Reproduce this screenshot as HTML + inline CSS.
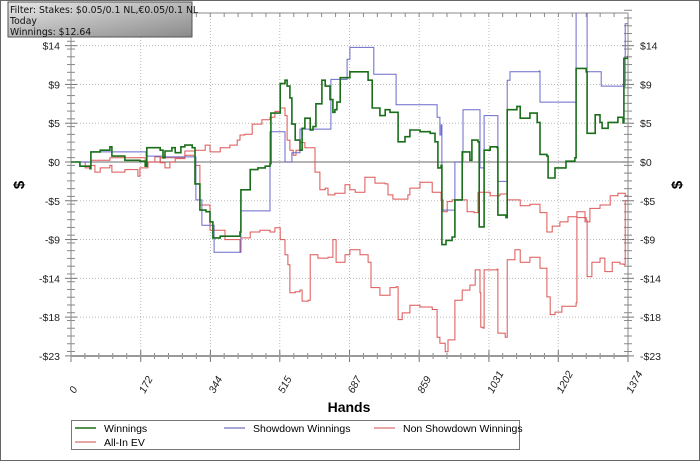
<!DOCTYPE html>
<html><head><meta charset="utf-8"><style>
body{margin:0;background:#fff;font-family:"Liberation Sans","DejaVu Sans",sans-serif}
#wrap{position:relative;width:700px;height:461px;overflow:hidden}
</style></head><body>
<div id="wrap">
<svg id="chart" width="700" height="461">
<defs><linearGradient id="g" x1="0" y1="0" x2="1" y2="1"><stop offset="0" stop-color="#e8e8e8"/><stop offset="1" stop-color="#8a8a8a"/></linearGradient>
<clipPath id="cp"><rect x="71" y="13" width="557" height="343"/></clipPath></defs>
<rect x="0.5" y="0.5" width="699" height="460" fill="#fff" stroke="#666"/>
<g id="grid"></g><g id="axes"></g><g id="series" clip-path="url(#cp)"></g><g id="labels"></g>
<rect x="8" y="2" width="184" height="35" fill="url(#g)" stroke="#555"/>
<text x="10" y="13" font-size="9.3" font-family="DejaVu Sans,sans-serif" fill="#111">Filter: Stakes: $0.05/0.1 NL,€0.05/0.1 NL</text>
<text x="10" y="24" font-size="9.3" font-family="DejaVu Sans,sans-serif" fill="#111">Today</text>
<text x="10" y="35" font-size="9.3" font-family="DejaVu Sans,sans-serif" fill="#111">Winnings: $12.64</text>
<text x="349" y="412" font-size="14" font-weight="bold" text-anchor="middle">Hands</text>
<text transform="translate(24,185) rotate(-90)" font-size="15" font-weight="bold" text-anchor="middle">$</text>
<text transform="translate(682,185) rotate(-90)" font-size="15" font-weight="bold" text-anchor="middle">$</text>
<g>
<rect x="71.5" y="420.5" width="448" height="29" fill="#fff" stroke="#777"/>
<g><line x1="75" y1="428" x2="96" y2="428" stroke="#1a6e1a" stroke-width="1.5"/><text x="104" y="432" font-size="10.5">Winnings</text></g>
<g><line x1="224" y1="428" x2="245" y2="428" stroke="#8888cc" stroke-width="1.5"/><text x="253" y="432" font-size="10.5">Showdown Winnings</text></g>
<g><line x1="374" y1="428" x2="395" y2="428" stroke="#dd8888" stroke-width="1.5"/><text x="403" y="432" font-size="10.5">Non Showdown Winnings</text></g>
<g><line x1="75" y1="442" x2="96" y2="442" stroke="#dd8888" stroke-width="1.5"/><text x="104" y="446" font-size="10.5">All-In EV</text></g>
</g>
</svg></div>
<script>
const xTicks=[0,172,344,515,687,859,1031,1202,1374];
const yTicks=[13.8,9.2,4.6,0,-4.6,-9.2,-13.8,-18.4,-23];
const yTickLabels=["$14","$9","$5","$0","-$5","-$9","-$14","-$18","-$23"];
const winHands=[0,22,47,49,72,96,101,133,170,183,187,220,227,232,249,257,271,281,299,306,318,333,343,350,368,380,417,419,442,461,479,491,493,516,528,533,540,545,553,565,570,577,590,597,604,619,627,639,646,651,656,664,688,713,733,743,762,775,787,804,807,824,836,861,886,898,905,913,915,925,940,947,962,965,984,989,1004,1007,1016,1019,1034,1051,1053,1073,1076,1100,1108,1132,1150,1157,1174,1177,1194,1221,1243,1246,1271,1273,1293,1305,1310,1325,1349,1362,1364,1374];
const winValues=[0,-0.5,-0.8,1.2,1.4,1.8,0.7,0.2,0.1,-0.5,1.7,1.4,0.5,1.3,1.7,1.1,1.8,2.0,1.7,-2.6,-5.7,-5.9,-7.1,-9.0,-8.8,-8.8,-8.3,-3.3,-0.9,-0.7,-0.5,-0.2,5.8,9.3,9.7,9.0,7.6,4.5,2.6,1.4,4.0,5.2,3.8,4.2,6.9,9.7,9.0,7.4,5.9,6.2,7.1,10.0,10.7,10.7,9.7,6.4,5.5,6.2,5.9,5.9,2.4,3.0,3.8,3.6,3.4,2.4,-0.7,-0.4,-9.8,-9.3,-8.9,-4.5,-4.5,1.2,0.2,2.6,2.4,-7.7,-7.7,1.4,1.8,1.7,-6.3,-6.6,6.2,6.6,5.2,5.8,4.7,0.9,0.7,-1.9,-0.7,0.1,0.5,11.1,10.7,3.4,5.6,4.7,4.0,4.7,5.3,4.7,12.3,12.6];
const sdHands=[0,47,49,183,185,232,306,308,318,323,350,353,417,419,488,491,518,528,540,545,558,565,639,641,678,681,688,745,747,797,802,898,903,910,913,915,942,947,965,967,1007,1009,1016,1019,1051,1053,1073,1076,1083,1155,1157,1243,1246,1271,1273,1305,1308,1364,1367,1374];
const sdValues=[0,0,1.2,1.2,0.7,0.6,0.6,-4.5,-4.5,-7.5,-7.5,-10.7,-10.7,-5.8,-5.8,3.6,3.6,0,0,1.1,1.1,3.9,3.9,9.8,9.8,12.2,13.6,13.6,10.4,10.4,6.8,6.8,5.3,3.2,4.4,-5.7,-5.7,0,0,6.2,6.2,-0.7,-0.7,5.5,5.5,-2.3,-2.3,9.7,10.7,10.8,7.1,7.1,22,22,10.7,10.7,9.0,9.0,16.4,16.4];
const nsdHands=[0,35,47,59,72,96,101,133,165,170,190,207,220,232,244,257,281,306,331,343,368,392,410,417,429,447,471,491,503,516,528,533,540,548,555,565,577,602,614,627,634,651,676,688,701,725,750,775,782,794,812,831,836,861,891,913,918,928,940,967,977,994,1004,1034,1058,1076,1095,1108,1132,1157,1174,1187,1206,1226,1248,1268,1280,1305,1330,1349,1367,1374];
const nsdValues=[0,-0.7,-0.4,-1.2,-0.7,-0.4,-1.2,-0.9,-1.7,-0.7,0,0.6,-0.1,-0.7,0,0.4,1.3,1.4,2.0,1.2,1.7,2.0,2.6,3.2,3.3,4.5,5.0,5.3,6.0,6.4,5.5,2.6,1.4,0.8,1.4,2.3,1.7,-1.2,-3.3,-3.1,-3.9,-3.7,-2.7,-3.3,-3.6,-1.8,-2.5,-2.6,-3.9,-4.4,-4.4,-3.9,-3.1,-2.4,-3.6,-4.5,-5.9,-4.7,-4.5,-4.5,-5.9,-6.0,-3.6,-4.0,-3.8,-4.5,-4.5,-5.2,-5.0,-6.0,-8.3,-7.6,-7.1,-6.5,-5.9,-7.1,-5.5,-5.1,-4.0,-3.7,-4.0,-4.0];
const evHands=[0,49,96,183,220,281,306,318,343,380,417,419,442,466,491,503,516,528,535,540,553,565,570,585,590,609,634,646,654,664,676,688,713,733,740,762,787,802,807,817,836,861,891,903,910,923,930,947,965,984,997,1009,1011,1016,1019,1051,1053,1071,1076,1095,1108,1132,1157,1174,1182,1194,1211,1231,1246,1248,1271,1273,1285,1305,1317,1335,1354,1364,1367,1374];
const evValues=[0,0.2,0.5,0,0.5,0.8,-0.4,-5.1,-8.1,-9.2,-10.7,-9.0,-8.3,-8.1,-8.3,-7.8,-9.2,-11.0,-12.2,-15.5,-15.4,-15.2,-16.5,-16.4,-11.0,-11.4,-11.3,-9.2,-11.9,-11.9,-11.0,-10.4,-11.0,-11.9,-14.9,-15.8,-14.9,-14.8,-18.7,-17.9,-17.0,-17.2,-17.5,-20.8,-21.5,-22.5,-21.1,-16.4,-15.2,-14.6,-12.8,-15.5,-19.6,-19.7,-12.8,-12.7,-20.3,-20.8,-11.6,-10.4,-11.9,-11.3,-12.6,-16.0,-18.1,-17.8,-17.1,-17.1,-16.7,-6.6,-6.9,-13.6,-11.9,-11.4,-13.0,-11.9,-12.1,-12.2,-4.6,-4.0];

const NS='http://www.w3.org/2000/svg';
const X=h=>71+h*557/1374, Y=v=>162-v*8.43;
function mk(tag,attrs,parent){const e=document.createElementNS(NS,tag);for(const k in attrs)e.setAttribute(k,attrs[k]);parent.appendChild(e);return e;}
const grid=document.getElementById('grid'),axes=document.getElementById('axes'),ser=document.getElementById('series'),lab=document.getElementById('labels');
xTicks.forEach((t,i)=>{
 if(i>0&&i<xTicks.length-1){const g=mk('line',{x1:X(t),x2:X(t),y1:13,y2:356,stroke:'#bbb','stroke-dasharray':'1,2'},grid);
 
 }
 const tk=mk('line',{x1:X(t),x2:X(t),y1:350,y2:362,stroke:'#777'},axes);
 
 
 const tt=mk('text',{transform:`translate(${X(t)+4},${394}) rotate(-62)`,'font-size':'10.5','font-style':'italic',fill:'#222'},lab);
 tt.textContent=t;
 
 
});
for(let i=0;i<40;i++){const h=i*1374/40;mk('line',{x1:X(h),x2:X(h),y1:353,y2:359,stroke:'#888'},axes);mk('line',{x1:X(h),x2:X(h),y1:13,y2:17,stroke:'#888'},axes);}
yTicks.forEach((t,i)=>{
 if(t!==0){const g=mk('line',{x1:71,x2:628,y1:Y(t),y2:Y(t),stroke:'#bbb','stroke-dasharray':'1,2'},grid);
 
 }
 mk('line',{x1:65,x2:77,y1:Y(t),y2:Y(t),stroke:'#777'},axes);
 mk('line',{x1:622,x2:634,y1:Y(t),y2:Y(t),stroke:'#777'},axes);
 const a=mk('text',{x:60,y:Y(t)+4,'text-anchor':'end','font-size':'10.5',fill:'#222'},lab);
 a.textContent=yTickLabels[i];
 
 
 const b=mk('text',{x:640,y:Y(t)+4,'font-size':'10.5',fill:'#222'},lab);
 b.textContent=yTickLabels[i];
 
 
});
for(let v=18;v>=-23;v-=0.92){mk('line',{x1:67,x2:75,y1:Y(v),y2:Y(v),stroke:'#888'},axes);mk('line',{x1:624,x2:632,y1:Y(v),y2:Y(v),stroke:'#888'},axes);}
mk('line',{x1:71,x2:628,y1:13,y2:13,stroke:'#888'},axes);
mk('line',{x1:71,x2:71,y1:13,y2:356,stroke:'#888'},axes);
mk('line',{x1:628,x2:628,y1:13,y2:356,stroke:'#888'},axes);
mk('line',{x1:71,x2:628,y1:356,y2:356,stroke:'#999','stroke-width':2},axes);
const z=mk('line',{x1:71,x2:628,y1:Y(0),y2:Y(0),stroke:'#888','stroke-width':1.3},grid);


function draw(hs,vs,color,w,name){
 const pts=[];
 hs.forEach((h,i)=>{if(i>0)pts.push(X(h).toFixed(1)+','+Y(vs[i-1]).toFixed(1));pts.push(X(h).toFixed(1)+','+Y(vs[i]).toFixed(1));});
 const p=mk('polyline',{points:pts.join(' '),fill:'none',stroke:color,'stroke-width':w},ser);
 
 }
draw(evHands,evValues,'#d55','1','allin-ev-line');
draw(nsdHands,nsdValues,'#d55','1','non-showdown-winnings-line');
draw(sdHands,sdValues,'#6a6acc','1','showdown-winnings-line');
draw(winHands,winValues,'#1a6e1a','1.6','winnings-line');
</script>
</body></html>
